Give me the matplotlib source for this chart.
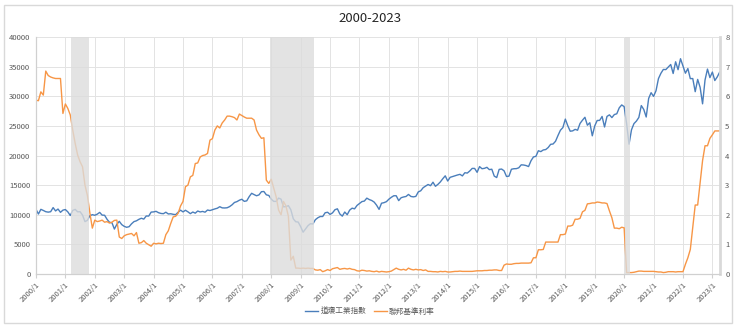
import numpy as np
import matplotlib
matplotlib.use('Agg')
import matplotlib.pyplot as plt
from matplotlib.patches import Rectangle
from matplotlib.lines import Line2D

plt.rcParams['font.family'] = ['Noto Sans CJK TC', 'DejaVu Sans']

# monthly categories 2000/1 .. 2023/4
months = [f'{y}/{m}' for y in range(2000, 2024) for m in range(1, 13)][:280]
tick_labels = [m for m in months if m.endswith('/1')]

# Dow Jones month-end close
dow = [
    10940, 10128, 10922, 10734, 10522, 10448, 10522, 11215, 10651, 10971, 10415, 10787,
    10887, 10495, 9879, 10735, 10912, 10502, 10523, 9950, 8848, 9075, 9852, 10022,
    9920, 10106, 10404, 9946, 9925, 9243, 8737, 8664, 7592, 8397, 8896, 8342,
    8054, 7891, 7992, 8480, 8850, 8985, 9234, 9416, 9275, 9801, 9782, 10454,
    10488, 10584, 10358, 10226, 10188, 10435, 10140, 10174, 10080, 10027, 10428, 10783,
    10490, 10766, 10504, 10193, 10467, 10275, 10641, 10482, 10569, 10440, 10806, 10718,
    10865, 10993, 11109, 11367, 11168, 11150, 11186, 11381, 11679, 12081, 12222, 12463,
    12622, 12269, 12354, 13063, 13628, 13409, 13212, 13358, 13896, 13930, 13372, 13265,
    12650, 12266, 12263, 12820, 12638, 11350, 11378, 11544, 10851, 9325, 8829, 8776,
    8001, 7063, 7609, 8168, 8500, 8447, 9172, 9496, 9712, 9713, 10345, 10428,
    10067, 10325, 10857, 11009, 10137, 9774, 10466, 10015, 10788, 11118, 11006, 11578,
    11892, 12226, 12320, 12811, 12570, 12414, 12143, 11614, 10913, 11955, 12046, 12218,
    12633, 12952, 13212, 13214, 12393, 12880, 13009, 13091, 13437, 13096, 13026, 13104,
    13861, 14054, 14579, 14840, 15116, 14910, 15500, 14810, 15130, 15546, 16086, 16577,
    15699, 16322, 16458, 16581, 16717, 16827, 16563, 17098, 17043, 17391, 17828, 17823,
    17165, 18133, 17776, 17841, 18011, 17620, 17690, 16528, 16285, 17664, 17720, 17425,
    16466, 16517, 17685, 17774, 17787, 17930, 18432, 18401, 18308, 18142, 19124, 19763,
    19864, 20812, 20663, 20941, 21009, 21350, 21891, 21948, 22405, 23377, 24272, 24719,
    26149, 25029, 24103, 24163, 24416, 24271, 25415, 25965, 26458, 25116, 25538, 23327,
    24999, 25916, 25929, 26593, 24815, 26600, 26864, 26403, 26917, 27046, 28051, 28538,
    28256, 25409, 21917, 24346, 25383, 25813, 26428, 28430, 27782, 26502, 29639, 30606,
    29983, 30932, 32982, 33875, 34529, 34503, 34935, 35361, 33844, 35820, 34484, 36338,
    35132, 33893, 34678, 32977, 32990, 30775, 32845, 31510, 28726, 32733, 34590, 33147,
    34086, 32657, 33274, 34098,
]

# fed funds rate (%)
fed_rate = [
    5.87, 5.85, 6.15, 6.04, 6.85, 6.70, 6.65, 6.62, 6.60, 6.60, 6.60, 5.42,
    5.74, 5.59, 5.37, 4.86, 4.41, 4.02, 3.79, 3.62, 3.00, 2.65, 2.06, 1.55,
    1.82, 1.77, 1.79, 1.82, 1.75, 1.77, 1.72, 1.75, 1.81, 1.82, 1.25, 1.20,
    1.29, 1.33, 1.35, 1.37, 1.29, 1.40, 1.04, 1.06, 1.13, 1.04, 0.99, 0.94,
    1.04, 1.02, 1.04, 1.03, 1.04, 1.33, 1.46, 1.71, 1.93, 1.95, 2.05, 2.30,
    2.45, 2.95, 3.00, 3.28, 3.33, 3.73, 3.75, 3.95, 4.00, 4.02, 4.07, 4.52,
    4.57, 4.86, 5.00, 4.93, 5.10, 5.20, 5.33, 5.33, 5.31, 5.28, 5.20, 5.40,
    5.35, 5.30, 5.26, 5.26, 5.26, 5.20, 4.86, 4.70, 4.58, 4.60, 3.17, 3.06,
    3.20, 2.90, 2.61, 2.16, 2.00, 2.45, 2.30, 1.95, 0.47, 0.60, 0.20, 0.20,
    0.19, 0.20, 0.19, 0.20, 0.19, 0.19, 0.14, 0.13, 0.15, 0.08, 0.11, 0.15,
    0.12, 0.18, 0.20, 0.22, 0.16, 0.18, 0.19, 0.17, 0.19, 0.16, 0.15, 0.11,
    0.10, 0.13, 0.12, 0.10, 0.11, 0.09, 0.08, 0.10, 0.07, 0.09, 0.08, 0.07,
    0.08, 0.10, 0.15, 0.20, 0.16, 0.14, 0.16, 0.13, 0.20, 0.16, 0.14, 0.16,
    0.14, 0.15, 0.12, 0.14, 0.09, 0.09, 0.08, 0.08, 0.07, 0.09, 0.08, 0.09,
    0.07, 0.07, 0.08, 0.09, 0.09, 0.10, 0.09, 0.09, 0.09, 0.09, 0.09, 0.10,
    0.11, 0.11, 0.11, 0.12, 0.12, 0.13, 0.13, 0.14, 0.14, 0.12, 0.12, 0.30,
    0.34, 0.33, 0.33, 0.35, 0.36, 0.36, 0.37, 0.37, 0.37, 0.37, 0.38, 0.55,
    0.55, 0.82, 0.82, 0.83, 1.08, 1.08, 1.08, 1.08, 1.08, 1.08, 1.33, 1.33,
    1.35, 1.62, 1.62, 1.65, 1.85, 1.85, 1.88, 2.10, 2.15, 2.37, 2.38, 2.40,
    2.40, 2.43, 2.42, 2.40, 2.40, 2.38, 2.13, 1.90, 1.55, 1.55, 1.53, 1.58,
    1.56, 0.05, 0.05, 0.05, 0.06, 0.08, 0.10, 0.10, 0.09, 0.09, 0.09, 0.09,
    0.09, 0.08, 0.07, 0.07, 0.05, 0.06, 0.08, 0.08, 0.08, 0.07, 0.08, 0.08,
    0.08, 0.33, 0.55, 0.83, 1.58, 2.33, 2.33, 3.08, 3.83, 4.33, 4.33, 4.58,
    4.70, 4.83, 4.83, 4.83,
]

# recession months (first, last)
recessions = [('2001/4', '2001/10'), ('2008/1', '2009/6'), ('2020/2', '2020/3')]

blue = '#4A7EBB'
orange = '#F79646'
grid_c = '#E3E3E3'
text_c = '#595959'

fig = plt.figure(figsize=(7.4, 3.29), dpi=100)
ax = fig.add_axes([0.0486, 0.167, 0.924, 0.7205])
ax2 = ax.twinx()

x = np.arange(len(months))
ax.plot(x, dow, color=blue, lw=1.0)
ax2.plot(x, fed_rate, color=orange, lw=1.0, zorder=2)

# shaded recessions drawn over the lines
for start, end in recessions:
    ax2.axvspan(months.index(start) - 0.5, months.index(end) + 0.5,
                color='#DCDCDC', alpha=0.8, lw=0, zorder=5)

ax.set_xlim(0, len(months) - 1)
ax.set_ylim(0, 40000)
ax.set_yticks(range(0, 40001, 5000))
ax2.set_ylim(0, 8)
ax2.set_yticks(range(0, 9))

ax.set_xticks([months.index(t) for t in tick_labels])
ax.set_xticklabels(tick_labels, rotation=45, ha='right', rotation_mode='anchor',
                   fontsize=5.5, color=text_c)
ax.tick_params(axis='x', length=3, color='#D0D0D0', pad=2)
ax.tick_params(axis='y', length=0, labelsize=5.5, labelcolor=text_c, pad=4)
ax2.tick_params(axis='y', length=0, labelsize=5.5, labelcolor=text_c, pad=4)

ax.set_axisbelow(True)
ax.grid(True, color=grid_c, lw=0.7)

for a in (ax, ax2):
    a.spines['top'].set_visible(False)
    a.spines['left'].set_color('#D0D0D0')
    a.spines['bottom'].set_color('#D0D0D0')
    a.spines['right'].set_visible(False)
ax2.spines['right'].set_visible(True)
ax2.spines['right'].set_color('#D9D9D9')
ax2.spines['right'].set_linewidth(2)

fig.text(0.5, 0.945, '2000-2023', ha='center', va='center', fontsize=9.5, color='#262626')

handles = [Line2D([], [], color=blue, lw=1.0), Line2D([], [], color=orange, lw=1.0)]
fig.legend(handles, ['道瓊工業指數', '聯邦基準利率'], loc='center',
           bbox_to_anchor=(0.5, 0.052), ncol=2, frameon=False, fontsize=5.5,
           handlelength=1.7, handletextpad=0.3, columnspacing=1.0, labelcolor=text_c)

# chart area border
fig.patches.append(Rectangle((4 / 740, 6 / 329), 728 / 740, 318 / 329,
                             transform=fig.transFigure, fill=False,
                             edgecolor='#D9D9D9', lw=1))

fig.savefig('out.png', dpi=100)
